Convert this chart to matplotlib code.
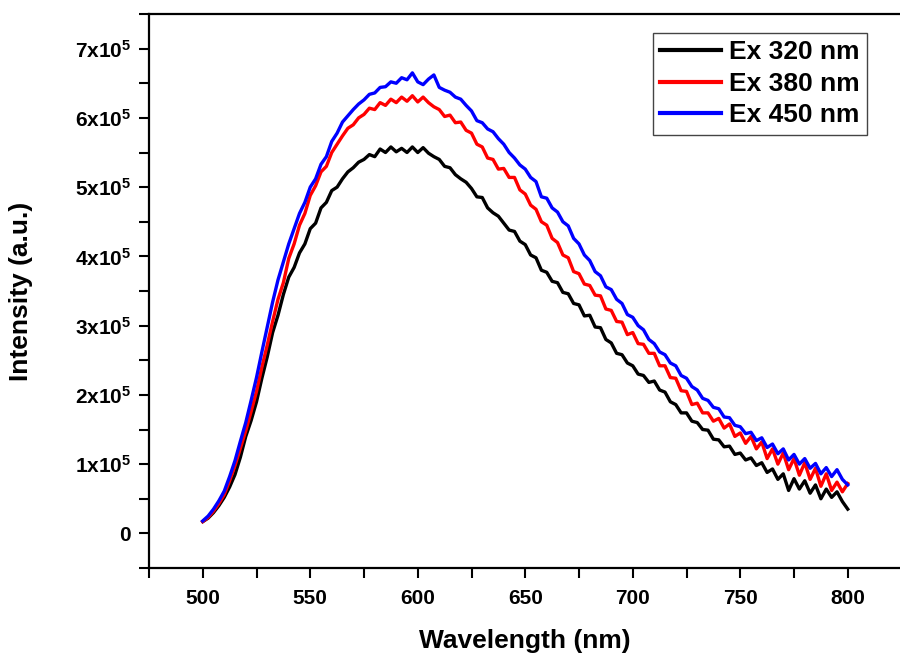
import numpy as np
import matplotlib
matplotlib.use("Agg")
import matplotlib.pyplot as plt
from matplotlib.ticker import MultipleLocator, FuncFormatter

plt.rcParams["font.family"] = ["Liberation Sans", "DejaVu Sans"]
plt.rcParams["font.weight"] = "bold"
plt.rcParams["mathtext.fontset"] = "custom"
plt.rcParams["mathtext.rm"] = "Liberation Sans:bold"
plt.rcParams["mathtext.bf"] = "Liberation Sans:bold"

# wavelength grid, 2.5 nm steps, 500..800 nm
wavelength = np.arange(500, 800.01, 2.5)

# intensities, in units of 1e5 counts
ex320 = [
    0.17, 0.22, 0.30, 0.40, 0.52, 0.67, 0.85, 1.10, 1.40, 1.63,
    1.90, 2.24, 2.55, 2.90, 3.15, 3.45, 3.70, 3.84, 4.05, 4.18,
    4.40, 4.48, 4.70, 4.78, 4.95, 5.00, 5.12, 5.22, 5.28, 5.36,
    5.40, 5.47, 5.44, 5.55, 5.50, 5.58, 5.51, 5.56, 5.50, 5.58,
    5.50, 5.57, 5.49, 5.44, 5.40, 5.30, 5.28, 5.18, 5.12, 5.07,
    4.98, 4.86, 4.85, 4.70, 4.63, 4.58, 4.48, 4.38, 4.36, 4.22,
    4.17, 4.02, 3.98, 3.80, 3.77, 3.64, 3.62, 3.48, 3.46, 3.32,
    3.30, 3.14, 3.15, 2.98, 2.97, 2.80, 2.75, 2.60, 2.58, 2.46,
    2.42, 2.30, 2.28, 2.18, 2.20, 2.07, 2.04, 1.90, 1.86, 1.74,
    1.74, 1.62, 1.60, 1.50, 1.49, 1.36, 1.35, 1.25, 1.26, 1.14,
    1.16, 1.06, 1.09, 0.98, 1.02, 0.88, 0.93, 0.78, 0.86, 0.62,
    0.79, 0.64, 0.76, 0.58, 0.70, 0.50, 0.64, 0.52, 0.60, 0.46,
    0.35,
]
ex380 = [
    0.17, 0.23, 0.32, 0.43, 0.56, 0.76, 0.98, 1.23, 1.48, 1.76,
    2.05, 2.40, 2.72, 3.06, 3.38, 3.62, 3.97, 4.18, 4.45, 4.62,
    4.88, 5.02, 5.22, 5.30, 5.50, 5.62, 5.74, 5.85, 5.90, 6.00,
    6.05, 6.14, 6.12, 6.22, 6.18, 6.27, 6.22, 6.30, 6.24, 6.32,
    6.23, 6.30, 6.22, 6.16, 6.12, 6.02, 6.04, 5.93, 5.94, 5.82,
    5.78, 5.62, 5.58, 5.42, 5.40, 5.26, 5.27, 5.14, 5.14, 4.96,
    4.90, 4.74, 4.68, 4.50, 4.45, 4.26, 4.20, 4.02, 3.98, 3.78,
    3.75, 3.60, 3.58, 3.44, 3.43, 3.24, 3.22, 3.06, 3.05, 2.87,
    2.90, 2.74, 2.73, 2.60, 2.60, 2.42, 2.42, 2.25, 2.24, 2.06,
    2.05, 1.86, 1.88, 1.74, 1.74, 1.62, 1.66, 1.52, 1.58, 1.40,
    1.45, 1.30, 1.40, 1.22, 1.32, 1.08, 1.22, 1.00, 1.16, 0.92,
    1.08, 0.84, 1.02, 0.78, 0.94, 0.68, 0.86, 0.62, 0.74, 0.60,
    0.72,
]
ex450 = [
    0.18, 0.25, 0.35, 0.47, 0.61, 0.82, 1.05, 1.33, 1.60, 1.92,
    2.25, 2.62, 2.98, 3.34, 3.66, 3.92, 4.18, 4.40, 4.62, 4.78,
    5.00, 5.12, 5.33, 5.44, 5.66, 5.78, 5.94, 6.03, 6.12, 6.20,
    6.26, 6.34, 6.36, 6.44, 6.45, 6.52, 6.50, 6.58, 6.55, 6.65,
    6.52, 6.48, 6.56, 6.62, 6.44, 6.40, 6.37, 6.30, 6.27, 6.18,
    6.10, 5.96, 5.93, 5.84, 5.80, 5.70, 5.62, 5.50, 5.42, 5.32,
    5.26, 5.14, 5.08, 4.86, 4.84, 4.70, 4.64, 4.50, 4.44, 4.26,
    4.18, 4.02, 3.94, 3.78, 3.72, 3.56, 3.52, 3.38, 3.32, 3.16,
    3.12, 3.00, 2.94, 2.80, 2.74, 2.62, 2.58, 2.46, 2.42, 2.28,
    2.24, 2.12, 2.07, 1.95, 1.92, 1.82, 1.80, 1.68, 1.67, 1.56,
    1.54, 1.44, 1.46, 1.34, 1.38, 1.24, 1.29, 1.15, 1.22, 1.06,
    1.14, 1.00, 1.08, 0.94, 1.01, 0.86, 0.95, 0.82, 0.92, 0.78,
    0.70,
]

series = [("Ex 320 nm", ex320, "black"),
          ("Ex 380 nm", ex380, "red"),
          ("Ex 450 nm", ex450, "blue")]


def ytick_fmt(v, pos):
    n = int(round(v / 1e5))
    if n == 0:
        return "0"
    return r"$\mathbf{%dx10^{5}}$" % n


fig = plt.figure(figsize=(9.0, 6.57), dpi=100)
# right edge of the axes box falls just outside the picture, like the reference
ax = fig.add_axes([149 / 900, 89 / 657, (901.5 - 149) / 900, (568 - 14) / 657])

for name, vals, col in series:
    ax.plot(wavelength, np.array(vals) * 1e5, color=col, lw=2.4, label=name)

ax.set_xlim(475, 825)
ax.set_ylim(-0.5e5, 7.5e5)

ax.xaxis.set_major_locator(MultipleLocator(50))
ax.xaxis.set_minor_locator(MultipleLocator(25))
ax.yaxis.set_major_locator(MultipleLocator(1e5))
ax.yaxis.set_minor_locator(MultipleLocator(0.5e5))
ax.yaxis.set_major_formatter(FuncFormatter(ytick_fmt))

ax.spines["right"].set_visible(False)
for s in ("left", "bottom", "top"):
    ax.spines[s].set_linewidth(1.6)

ax.tick_params(which="both", direction="out", length=7, width=1.5,
               top=False, right=False)
ax.tick_params(axis="x", which="major", labelsize=15, pad=8)
ax.tick_params(axis="y", which="major", labelsize=15, pad=6)

ax.set_xlabel("Wavelength (nm)", fontsize=19, fontweight="bold", labelpad=15)
ax.set_ylabel("Intensity (a.u.)", fontsize=19, fontweight="bold", labelpad=30)

leg = ax.legend(loc="upper right", bbox_to_anchor=(867 / 900, 1 - 33 / 657),
                bbox_transform=fig.transFigure, borderaxespad=0,
                fontsize=19, frameon=True, fancybox=False, framealpha=1,
                edgecolor="#444444", handlelength=2.3, handletextpad=0.3,
                labelspacing=0.28, borderpad=0.28)
leg.get_frame().set_linewidth(1.0)
for line in leg.get_lines():
    line.set_linewidth(3)

fig.savefig("out.png", dpi=100)
